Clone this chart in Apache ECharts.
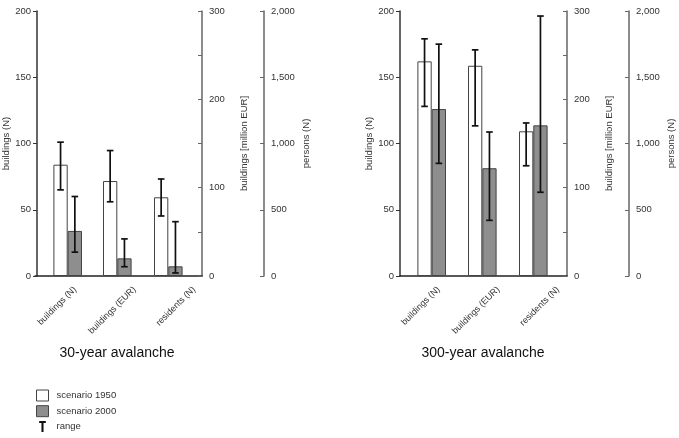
<!DOCTYPE html>
<html><head><meta charset="utf-8">
<script src="https://cdn.jsdelivr.net/npm/echarts@6/dist/echarts.min.js"></script>
<style>html,body{margin:0;padding:0;background:#fff}#c{width:679px;height:438px}</style>
</head><body><div id="c"></div>
<script>
// ---------- data ----------
const categories = ['buildings (N)', 'buildings (EUR)', 'residents (N)'];
const panelTitles = ['30-year avalanche', '300-year avalanche'];
const scenarioNames = ['scenario 1950', 'scenario 2000'];
const rangeName = 'range';
const axisNames = ['buildings (N)', 'buildings [million EUR]', 'persons (N)'];
const axisMax = [200, 300, 2000];
const axisTickStep = [50, 50, 500];
const axisLabelStep = [50, 100, 500];

// 30-year avalanche (units: buildings, million EUR, persons)
const y30_1950 = [84, 107.5, 594];
const y30_2000 = [34, 20, 73];
const y30_1950_lo = [65, 84, 453];
const y30_1950_hi = [101, 142, 732];
const y30_2000_lo = [18, 10.5, 23];
const y30_2000_hi = [60, 42, 410];

// 300-year avalanche
const y300_1950 = [162, 238, 1092];
const y300_2000 = [126, 122, 1137];
const y300_1950_lo = [128, 170, 832];
const y300_1950_hi = [179, 256, 1155];
const y300_2000_lo = [85, 63, 632];
const y300_2000_hi = [175, 163, 1962];

const panels = [
  {v1950: y30_1950, v2000: y30_2000, lo1950: y30_1950_lo, hi1950: y30_1950_hi, lo2000: y30_2000_lo, hi2000: y30_2000_hi},
  {v1950: y300_1950, v2000: y300_2000, lo1950: y300_1950_lo, hi1950: y300_1950_hi, lo2000: y300_2000_lo, hi2000: y300_2000_hi}
];

// ---------- layout / style ----------
const FONT = 'Liberation Sans, Arial, sans-serif';
const PLOT_TOP = 11, PLOT_H = 265;
const panelDx = [0, 365];
const catBounds = [35, 98.4, 136.2, 200.4];
const axisX = [35, 202, 264];
const labelGridPos = [{left: 45.3, width: 178.5}, {left: 408.8, width: 179}];
const titleX = [117, 483];
const BAR_W = 14.3;
const TEXT_COLOR = '#333';

const grid = [], xAxis = [], yAxis = [], series = [], graphic = [];

function hiddenY(gi) {
  return {type: 'value', gridIndex: gi, show: false, min: 0, max: 1};
}

panels.forEach((p, pi) => {
  const dx = panelDx[pi];
  // frame grid: baseline from first to last y-axis
  let gi = grid.length;
  grid.push({left: axisX[0] + dx, width: axisX[1] - axisX[0], top: PLOT_TOP, height: PLOT_H});
  xAxis.push({type: 'value', gridIndex: gi, min: 0, max: 1,
    axisLine: {show: true, onZero: false, lineStyle: {color: '#222', width: 1.5}},
    axisTick: {show: false}, axisLabel: {show: false}, splitLine: {show: false}});
  yAxis.push(hiddenY(gi));

  // one grid per category, each with its own value axis
  for (let c = 0; c < 3; c++) {
    gi = grid.length;
    const left = catBounds[c] + dx, right = catBounds[c + 1] + dx;
    grid.push({left: left, width: right - left, top: PLOT_TOP, height: PLOT_H});
    xAxis.push({type: 'category', gridIndex: gi, data: [categories[c]], show: false});
    const isLeft = c === 0;
    const step = axisLabelStep[c];
    yAxis.push({
      type: 'value', gridIndex: gi, min: 0, max: axisMax[c], interval: axisTickStep[c],
      position: isLeft ? 'left' : 'right',
      offset: isLeft ? (left - (axisX[0] + dx)) : (axisX[c] + dx - right),
      name: axisNames[c], nameLocation: 'middle', nameGap: isLeft ? 26 : 37, nameRotate: 90,
      nameTextStyle: {fontSize: 9.5, color: TEXT_COLOR, fontFamily: FONT},
      axisLine: {show: true, lineStyle: {color: isLeft ? '#333' : '#666', width: 1.5}},
      axisTick: {show: true, inside: !isLeft, length: 4, lineStyle: {color: isLeft ? '#333' : '#666', width: 1}},
      axisLabel: {fontSize: 9.5, color: TEXT_COLOR, fontFamily: FONT, margin: isLeft ? 6 : 7,
        formatter: v => (v % step === 0 ? echarts.format.addCommas(v) : '')},
      splitLine: {show: false}
    });
    const ai = xAxis.length - 1;
    series.push({
      type: 'bar', name: scenarioNames[0], xAxisIndex: ai, yAxisIndex: ai,
      data: [p.v1950[c]], barWidth: BAR_W, barGap: '0%',
      itemStyle: {color: '#ffffff', borderColor: '#444', borderWidth: 1},
      silent: true, animation: false
    });
    series.push({
      type: 'bar', name: scenarioNames[1], xAxisIndex: ai, yAxisIndex: ai,
      data: [p.v2000[c]], barWidth: BAR_W, barGap: '0%',
      itemStyle: {color: '#8e8e8e', borderColor: '#444', borderWidth: 1},
      silent: true, animation: false
    });
    series.push({
      type: 'custom', name: rangeName, xAxisIndex: ai, yAxisIndex: ai,
      itemStyle: {color: '#111'}, z: 5, silent: true, animation: false,
      encode: {x: 0, y: [1, 2]},
      data: [[0, p.lo1950[c], p.hi1950[c], -1], [0, p.lo2000[c], p.hi2000[c], 1]],
      renderItem: function (params, api) {
        const lo = api.coord([api.value(0), api.value(1)]);
        const hi = api.coord([api.value(0), api.value(2)]);
        const cx = lo[0] + api.value(3) * BAR_W / 2;
        const cap = 3.3;
        const st = {stroke: '#111', lineWidth: 1.7};
        return {type: 'group', children: [
          {type: 'line', shape: {x1: cx, y1: lo[1], x2: cx, y2: hi[1]}, style: st},
          {type: 'line', shape: {x1: cx - cap, y1: lo[1], x2: cx + cap, y2: lo[1]}, style: st},
          {type: 'line', shape: {x1: cx - cap, y1: hi[1], x2: cx + cap, y2: hi[1]}, style: st}
        ]};
      }
    });
  }

  // label grid for the rotated category labels
  gi = grid.length;
  grid.push({left: labelGridPos[pi].left, width: labelGridPos[pi].width, top: PLOT_TOP + PLOT_H - 1, height: 1});
  xAxis.push({type: 'category', gridIndex: gi, data: categories,
    axisLine: {show: false}, axisTick: {show: false},
    axisLabel: {rotate: 45, margin: 12, fontSize: 9, color: TEXT_COLOR, fontFamily: FONT, interval: 0}});
  yAxis.push(hiddenY(gi));

  graphic.push({type: 'text', x: titleX[pi], y: 353.5,
    style: {text: panelTitles[pi], align: 'center', verticalAlign: 'middle',
      fontSize: 14, fill: '#111', fontFamily: FONT}});
});

const chart = echarts.init(document.getElementById('c'), null, {renderer: 'canvas'});
chart.setOption({
  animation: false,
  backgroundColor: '#ffffff',
  textStyle: {fontFamily: FONT},
  grid: grid, xAxis: xAxis, yAxis: yAxis, series: series, graphic: graphic,
  legend: {
    orient: 'vertical', left: 36, top: 389.5, padding: 0, height: 48,
    itemWidth: 12, itemHeight: 11, itemGap: 3.7,
    selectedMode: false,
    textStyle: {fontSize: 9.5, lineHeight: 11, color: TEXT_COLOR, fontFamily: FONT, padding: [0, 0, 0, 3]},
    data: [
      {name: scenarioNames[0], icon: 'rect', itemStyle: {color: '#ffffff', borderColor: '#444', borderWidth: 1}},
      {name: scenarioNames[1], icon: 'rect', itemStyle: {color: '#8e8e8e', borderColor: '#444', borderWidth: 1}},
      {name: rangeName, icon: 'path://M0,0H6V1.9H3.95V10H2.05V1.9H0Z', itemStyle: {color: '#111', borderWidth: 0}}
    ]
  }
});
</script>
</body></html>
